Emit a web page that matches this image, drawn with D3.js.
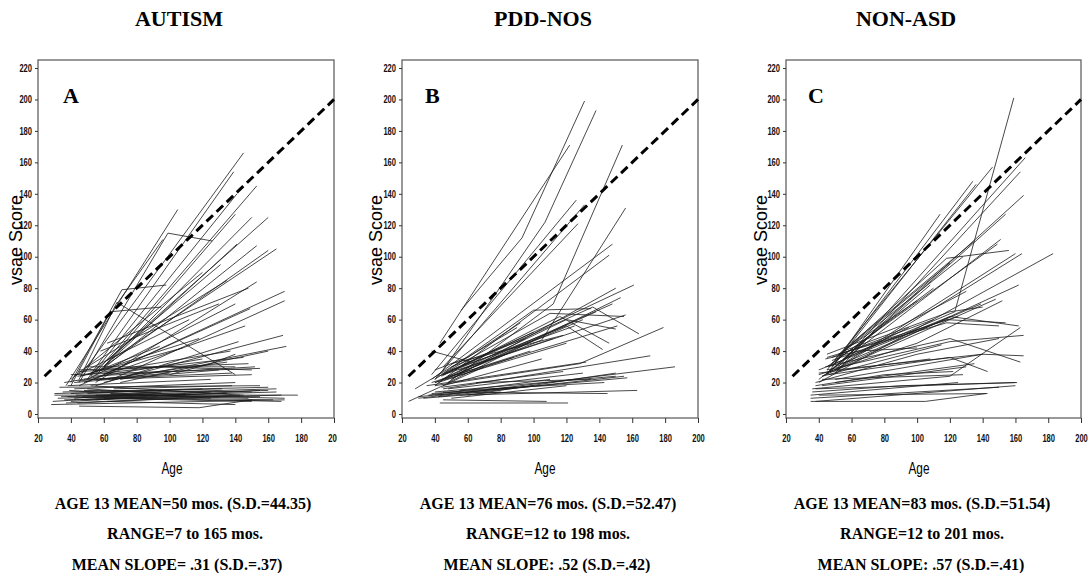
<!DOCTYPE html>
<html>
<head>
<meta charset="utf-8">
<script src="https://cdn.jsdelivr.net/npm/d3@7"></script>
<style>
body{margin:0;background:#fff}
svg{display:block}
</style>
</head>
<body>
<svg width="1089" height="573"></svg>
<script>
// ===== DATA =====
const titles = ["AUTISM","PDD-NOS","NON-ASD"]
const letters = ["A","B","C"]
const meanText = ["AGE 13 MEAN=50 mos. (S.D.=44.35)","AGE 13 MEAN=76 mos. (S.D.=52.47)","AGE 13 MEAN=83 mos. (S.D.=51.54)"]
const rangeText = ["RANGE=7 to 165 mos.","RANGE=12 to 198 mos.","RANGE=12 to 201 mos."]
const slopeText = ["MEAN SLOPE= .31 (S.D.=.37)","MEAN SLOPE: .52 (S.D.=.42)","MEAN SLOPE: .57 (S.D.=.41)"]
const xTicks = [20,40,60,80,100,120,140,160,180,200]
const yTicks = [0,20,40,60,80,100,120,140,160,180,200,220]
const refLine = [[24,24],[200,200]]

// trajectories: [age, score] points per child
const autism = [
[[37,18],[105,130]],[[47,26],[145,166]],[[50,22],[139,154]],[[52,24],[141,140]],
[[55,26],[153,145]],[[45,20],[99,115],[126,110]],[[60,30],[140,127]],[[58,28],[150,125]],
[[62,34],[160,125]],[[55,25],[153,107]],[[60,30],[160,104]],[[65,35],[165,105]],
[[40,20],[71,79],[98,82]],[[40,18],[64,65],[95,68]],[[45,22],[68,71],[140,25]],
[[55,20],[153,84]],[[60,25],[170,78]],[[65,22],[170,72]],[[50,22],[140,70]],
[[45,18],[149,67]],[[60,20],[169,50]],[[70,22],[171,43]],[[50,25],[94,43]],
[[55,28],[131,95]],[[60,30],[141,108]],[[50,30],[135,85]],[[40,22],[120,90]],
[[48,20],[146,56]],[[52,24],[152,30]],[[42,24],[112,60]],[[58,40],[130,70]],
[[62,45],[148,80]],[[68,70],[96,111]],
[[40,25],[155,29]],[[45,28],[148,32]],[[50,30],[140,30]],[[48,22],[138,26]],
[[42,20],[130,28]],[[55,22],[150,25]],[[38,18],[125,22]],[[60,26],[145,36]],
[[44,24],[137,40]],[[70,20],[160,40]],[[45,27],[95,30],[150,28]],[[36,20],[120,35]],
[[55,18],[142,46]],[[100,25],[125,32],[140,38]],[[46,24],[118,48]],[[52,26],[108,42]],
[[58,22],[135,33]],[[44,21],[100,26]],
[[30,12],[178,12]],[[28,6],[170,9]],[[32,10],[165,14]],[[35,14],[160,17]],
[[40,8],[155,15]],[[45,5],[118,4],[150,9]],[[33,17],[155,18]],[[38,11],[168,8]],
[[42,16],[140,20]],[[36,9],[145,12]],[[50,13],[170,10]],[[44,7],[130,11]],
[[48,15],[150,14]],[[55,12],[160,15]],[[40,13],[120,16]],[[30,13],[100,15]],
[[60,10],[150,8]],[[52,18],[143,12]],[[46,9],[168,12]],[[39,15],[125,10]],
[[34,11],[110,13]],[[58,14],[132,16]],[[62,8],[140,6]],[[43,12],[155,11]],
[[66,16],[138,18]],[[47,11],[163,9]],[[55,9],[125,14]],[[37,7],[105,10]],
[[64,13],[165,16]],[[29,8],[90,12]],[[70,12],[148,10]],[[50,16],[110,12]],
[[42,10],[95,14]],[[58,11],[135,13]]
]

const pddnos = [
[[56,66],[93,112],[131,199]],[[43,45],[122,171]],[[45,28],[107,122],[138,193]],
[[48,20],[112,70],[154,171]],[[40,20],[105,47],[156,131]],[[38,25],[126,136]],
[[40,22],[131,133]],[[45,30],[127,121]],[[38,22],[148,108]],[[40,18],[146,101]],
[[45,25],[161,82]],[[50,22],[150,80]],[[48,20],[153,74]],[[44,22],[148,70]],
[[55,28],[156,63]],[[50,24],[151,56]],[[45,25],[136,68],[164,51]],
[[44,24],[116,62],[146,45]],[[52,28],[120,56],[142,41]],[[40,18],[128,32],[179,55]],
[[45,16],[171,37]],[[30,10],[186,30]],[[40,12],[157,23]],[[45,14],[145,13]],
[[55,12],[163,15]],[[43,7],[121,7]],[[45,9],[108,8]],[[40,22],[100,66],[135,67]],
[[44,25],[110,64],[155,62]],[[48,24],[120,60],[150,54]],[[50,28],[125,56]],
[[46,22],[130,60]],[[55,26],[138,65]],[[40,20],[120,45]],[[42,24],[112,48]],
[[50,32],[118,50]],[[38,20],[98,40]],[[45,18],[105,35]],[[38,40],[62,33]],
[[28,16],[90,55]],[[24,8],[70,30]],[[35,18],[132,33]],[[40,14],[150,24]],
[[48,16],[130,26]],[[36,12],[110,22]],[[30,11],[100,18]],[[42,11],[155,24]],
[[60,12],[150,26]],[[50,10],[120,18]],[[38,13],[90,17]],[[55,15],[143,20]],
[[44,17],[118,27]],[[33,10],[80,14]],[[65,20],[135,22]],[[40,28],[60,36],[92,58]],
[[46,26],[100,52]],[[50,30],[95,48]],[[42,20],[88,36]]
]

const nonasd = [
[[55,35],[123,65],[159,201]],[[45,28],[146,157]],[[48,30],[134,148]],[[50,32],[136,146]],
[[52,30],[166,163]],[[50,26],[163,154]],[[55,35],[165,139]],[[45,25],[114,127]],
[[48,28],[154,127]],[[40,22],[151,111]],[[45,30],[149,108]],[[50,35],[118,99],[156,104]],
[[55,32],[160,102]],[[50,28],[164,102]],[[40,20],[183,102]],[[45,26],[162,82]],
[[42,24],[148,73]],[[50,30],[139,70]],[[44,25],[108,82]],[[48,34],[118,60],[154,58]],
[[40,28],[120,62],[162,56]],[[44,30],[120,48],[163,33]],[[50,28],[140,38],[165,37]],
[[46,25],[120,36],[143,27]],[[42,22],[128,25]],[[38,16],[161,20]],[[40,12],[143,13]],
[[35,8],[105,8],[142,13]],[[36,16],[120,24],[163,55]],[[38,20],[100,38],[150,48]],
[[45,36],[118,58],[150,56]],[[48,36],[110,60]],[[52,38],[125,62]],
[[55,40],[120,65],[140,68]],[[40,25],[100,45],[152,72]],[[45,28],[120,46],[165,50]],
[[50,22],[140,38]],[[42,18],[130,30]],[[35,12],[125,20]],[[38,8],[160,18]],
[[35,10],[100,14],[150,17]],[[45,38],[90,56],[130,78]],[[48,32],[110,80]],
[[52,38],[100,72]],[[55,40],[120,96]],[[60,45],[135,110]],[[58,42],[128,100]],
[[46,30],[95,55]],[[42,24],[115,44]],[[40,26],[108,35]],[[50,20],[135,32]],
[[36,14],[90,18],[160,20]],[[44,35],[64,40],[100,42]],[[38,18],[80,25],[122,27]]
]

const groups = [autism,pddnos,nonasd]

// ===== LAYOUT =====
const panels = [
  {x0:38, x1:334, title:179, foot:[183,185,177], age:172, ylab:22, letter:63, clip:337},
  {x0:402,x1:698, title:543, foot:[548,548,547], age:545, ylab:382, letter:425, clip:null},
  {x0:786,x1:1081,title:906, foot:[922,922,921], age:919, ylab:767, letter:808, clip:null}
]

const svg = d3.select("svg")

svg.append("defs").append("clipPath").attr("id","clipA")
.append("rect").attr("x",0).attr("y",0).attr("width",panels[0].clip).attr("height",573)

const y = d3.scaleLinear().domain([0,220]).range([414,68])

panels.forEach((p,i)=>{

const g = svg.append("g")
if(p.clip) g.attr("clip-path","url(#clipA)")

const x = d3.scaleLinear().domain([20,200]).range([p.x0,p.x1])

// TITLE
svg.append("text")
.attr("x",p.title).attr("y",26)
.attr("text-anchor","middle")
.style("font-family","'Liberation Serif','Times New Roman',serif")
.style("font-weight","bold")
.style("font-size","22px")
.text(titles[i])

// FRAME
g.append("rect")
.attr("x",p.x0).attr("y",60)
.attr("width",p.x1-p.x0).attr("height",358)
.attr("fill","none")
.attr("stroke","#555")
.attr("stroke-width",1.2)

// AXES
const xa = g.append("g")
.attr("transform","translate(0,418)")
.call(d3.axisBottom(x).tickValues(xTicks).tickSize(5).tickSizeOuter(0).tickPadding(12))
xa.select(".domain").remove()

const ya = g.append("g")
.attr("transform",`translate(${p.x0},0)`)
.call(d3.axisLeft(y).tickValues(yTicks).tickSize(3).tickSizeOuter(0).tickPadding(3))
ya.select(".domain").remove()

g.selectAll(".tick line").attr("stroke","#333")
g.selectAll(".tick text")
.style("font-family","'Liberation Sans',Arial,sans-serif")
.style("font-weight","bold")
.style("font-size","10px")
.attr("fill","#111")
.attr("textLength",function(){ return this.textContent.length*4.2 })
.attr("lengthAdjust","spacingAndGlyphs")

// LABELS
g.append("text")
.attr("transform",`translate(${p.ylab},240) rotate(-90)`)
.attr("text-anchor","middle")
.style("font-family","'Liberation Sans',Arial,sans-serif")
.style("font-size","18px")
.text("vsae Score")

g.append("text")
.attr("x",p.age).attr("y",474)
.attr("text-anchor","middle")
.attr("textLength",21)
.attr("lengthAdjust","spacingAndGlyphs")
.style("font-family","'Liberation Sans',Arial,sans-serif")
.style("font-size","17px")
.text("Age")

g.append("text")
.attr("x",p.letter).attr("y",103)
.style("font-family","'Liberation Serif','Times New Roman',serif")
.style("font-weight","bold")
.style("font-size","22px")
.text(letters[i])

// TRAJECTORIES
const line = d3.line().x(d=>x(d[0])).y(d=>y(d[1]))

g.append("g").selectAll("path")
.data(groups[i])
.enter()
.append("path")
.attr("d",line)
.attr("fill","none")
.attr("stroke","#1a1a1a")
.attr("stroke-width",0.8)

// REFERENCE LINE
g.append("path")
.datum(refLine)
.attr("d",line)
.attr("fill","none")
.attr("stroke","#000")
.attr("stroke-width",3)
.attr("stroke-dasharray","9,5")

// FOOTER
const foot = [meanText[i],rangeText[i],slopeText[i]]
const fy = [509,539,570]
foot.forEach((t,k)=>{
  svg.append("text")
  .attr("x",p.foot[k]).attr("y",fy[k])
  .attr("text-anchor","middle")
  .style("font-family","'Liberation Serif','Times New Roman',serif")
  .style("font-weight","bold")
  .style("font-size","16px")
  .text(t)
})

})
</script>
</body>
</html>
